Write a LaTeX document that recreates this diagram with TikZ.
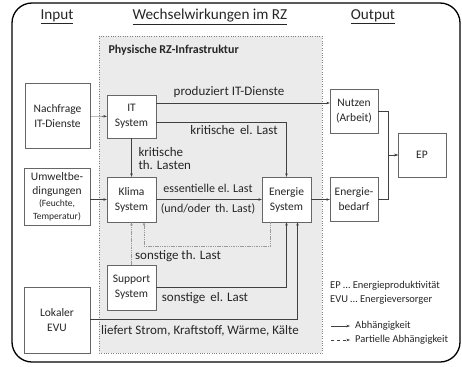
\documentclass[tikz,border=0pt]{standalone}
\usepackage{fontspec}
\setmainfont{Carlito}
\usetikzlibrary{arrows.meta}

\begin{document}
\begin{tikzpicture}[x=1pt,y=-1pt,
  box/.style={draw=black!60,fill=white,align=center,inner sep=1pt,text=black!85,font=\fontsize{11.5}{15}\selectfont},
  lbl/.style={text=black!85,font=\fontsize{13}{13.5}\selectfont},
  head/.style={text=black!85,font=\fontsize{15.2}{18}\selectfont},
  leg/.style={text=black!85,font=\fontsize{10.5}{12}\selectfont,anchor=west,inner sep=0pt},
  dep/.style={draw=black!75,-{Stealth[length=3.5pt,width=2.5pt]}},
  pdep/.style={draw=black!40,dash pattern=on 1.5pt off 0.8pt,-{Stealth[length=3.5pt,width=2.5pt]}}]

\useasboundingbox (0,0) rectangle (462,366);
\draw[line width=1.3pt,rounded corners=20] (12,3) rectangle (460,362);

% headings
\node[head] (hin) at (57,17) {\underline{Input}};
\node[head] (hww) at (210,17) {\underline{Wechselwirkungen im RZ}};
\node[head] (hout) at (373,17) {\underline{Output}};

% RZ area
\draw[draw=black!50,dotted,fill=black!8] (99,36) rectangle (322,353);
\node[anchor=west,font=\bfseries\fontsize{12}{14}\selectfont,text=black!85] (hrz) at (105,50) {Physische RZ-Infrastruktur};

% boxes
\node[box,minimum width=65,minimum height=65] (nachfrage) at (57.5,116) {Nachfrage\\IT-Dienste};
\node[box,minimum width=66,minimum height=57] (umwelt) at (57,196.5) {Umweltbe-\\[-1pt]dingungen\\[-3pt]\fontsize{9.5}{11}\selectfont(Feuchte,\\[-2pt]\fontsize{9.5}{11}\selectfont Temperatur)};
\node[box,minimum width=66,minimum height=66] (evu) at (57,320) {Lokaler\\EVU};
\node[box,minimum width=49,minimum height=43] (it) at (131.5,116.5) {IT\\System};
\node[box,minimum width=49,minimum height=45] (klima) at (131.5,199.5) {Klima\\System};
\node[box,minimum width=49,minimum height=45] (support) at (131.5,287.5) {Support\\System};
\node[box,minimum width=49,minimum height=45] (energie) at (286.5,199.5) {Energie\\System};
\node[box,minimum width=48,minimum height=44] (nutzen) at (354,111) {Nutzen\\(Arbeit)};
\node[box,minimum width=48,minimum height=44] (bedarf) at (354,199.5) {Energie-\\bedarf};
\node[box,minimum width=48,minimum height=44] (ep) at (422,155) {EP};

% connectors
\draw[dep] (nachfrage) -- (it);
\draw[dep] ([yshift=13.5pt]it.east) -- ([yshift=13.5pt]it.east -| nutzen.west);
\draw[dep] ([yshift=-5.5pt]it.east) -| (energie.north);
\draw[dep] (it) -- (klima);
\draw[dep] (umwelt.east |- klima) -- (klima);
\draw[dep] (klima) -- (energie);
\draw[dep] (energie) -- (bedarf);
\draw[dep] (nutzen.east) -- ++(10,0) |- (ep.west);
\draw[dep] (bedarf.east) -- ++(10,0) |- (ep.west);
\draw[pdep] ([xshift=-16pt]energie.south) -- ++(0,24) -| ([xshift=12.5pt]klima.south);
\draw[pdep] (support) -- (klima);
\draw[dep] (support.east) -| (energie.south);
\draw[dep] ([yshift=1pt]evu.east) -| ([xshift=11pt]energie.south);

% labels
\node[lbl] (lprod) at (229,92) {produziert IT-Dienste};
\node[lbl] (lkrel) at (234,130) {kritische\ \,el. Last};
\node[lbl,align=left,anchor=west] (lkrth) at (135,158.5) {kritische\\th. Lasten};
\node[lbl,font=\fontsize{12}{13.5}\selectfont] (less) at (208,188) {essentielle el. Last};
\node[lbl,font=\fontsize{12}{13.5}\selectfont] (lund) at (208,209) {(und/oder\ \,th. Last)};
\node[lbl] (lsth) at (178,256) {sonstige th. Last};
\node[lbl] (lsel) at (205,298) {sonstige\ \,el. Last};
\node[lbl] (lstrom) at (200,331) {liefert Strom, Kraftstoff, Wärme, Kälte};

% legend
\node[leg] (lep) at (330,286) {EP … Energieproduktivität};
\node[leg] (levu) at (330,300) {EVU … Energieversorger};
\coordinate (la1) at (331,326);
\coordinate (la2) at (350,326);
\draw[dep] (la1) -- (la2);
\node[leg] (labh) at (355,326) {Abhängigkeit};
\coordinate (lb1) at (331,340);
\coordinate (lb2) at (350,340);
\draw[dep,dashed] (lb1) -- (lb2);
\node[leg] (lpabh) at (355,340) {Partielle Abhängigkeit};
\end{tikzpicture}
\end{document}
